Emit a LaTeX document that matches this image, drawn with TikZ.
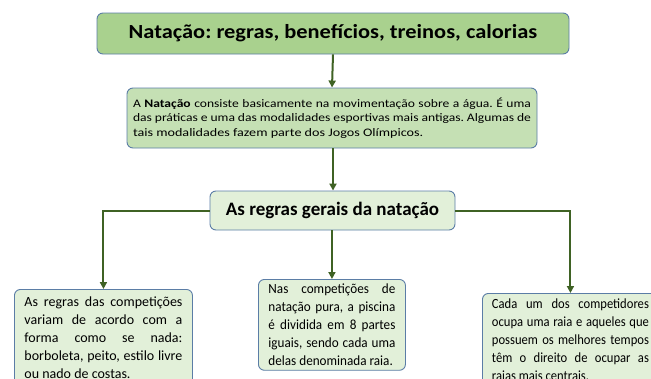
\documentclass[tikz,border=0pt]{standalone}
\usepackage{fontspec}
\setmainfont{Carlito}
\newfontfamily\titlefont[FakeStretch=1.12]{Carlito}
\newfontfamily\descfont[FakeStretch=1.18]{Carlito}
\newfontfamily\descfontb[FakeStretch=1.23]{Carlito}
\newfontfamily\midfont[FakeStretch=0.94]{Carlito}
\newfontfamily\rightfont[FakeStretch=0.9]{Carlito}
\usetikzlibrary{arrows.meta}
\definecolor{titlefill}{HTML}{A9D18E}
\definecolor{descfill}{HTML}{C5E0B4}
\definecolor{lightfill}{HTML}{E2F0D9}
\definecolor{boxline}{HTML}{5B7DA6}
\definecolor{arrgreen}{HTML}{3F6224}
\tikzset{
  box/.style={draw=boxline, line width=0.9pt, rounded corners=6pt},
  arr/.style={draw=arrgreen, line width=2pt, -{Triangle[length=7pt,width=7pt]}},
  leaf/.style={box, fill=lightfill, anchor=north west, align=justify, inner xsep=10pt},
}
\begin{document}
\frenchspacing
\begin{tikzpicture}[x=1pt,y=-1pt]
\useasboundingbox (0,0) rectangle (651,378);
\clip (0,0) rectangle (651,378);
\node[box, fill=titlefill, minimum width=472pt, minimum height=41pt, inner sep=0pt,
  font=\titlefont\bfseries\fontsize{20}{24}\selectfont] (title) at (333,33.5)
  {Natação: regras, benefícios, treinos, calorias};
\node[box, fill=descfill, minimum width=410pt, minimum height=60pt, inner xsep=6pt, inner ysep=0pt,
  text width=398pt, align=justify, font=\descfont\fontsize{11.5}{14.2}\selectfont\frenchspacing] (desc) at (332,118)
  {A \textbf{Natação} consiste basicamente na movimentação sobre a água. É uma\linebreak
   das práticas e uma das modalidades esportivas mais antigas. Algumas de\linebreak
   {\descfontb tais modalidades fazem parte dos Jogos Olímpicos.}};
\node[box, fill=lightfill, minimum width=245pt, minimum height=39pt, inner sep=0pt,
  font=\bfseries\fontsize{19}{23}\selectfont] (regras) at (332.5,210.5)
  {As regras gerais da natação};
\node[leaf, text width=158pt, inner ysep=7.5pt, font=\fontsize{14}{18}\selectfont] (left) at (14,289)
  {As regras das competições\linebreak
   variam de acordo com a\linebreak
   forma como se nada:\linebreak
   borboleta, peito, estilo livre\linebreak
   ou nado de costas.\rule[-12pt]{0pt}{0pt}};
\node[leaf, text width=127pt, inner ysep=4.5pt, font=\midfont\fontsize{14}{18}\selectfont] (mid) at (258,279)
  {Nas competições de\linebreak
   natação pura, a piscina\linebreak
   é dividida em 8 partes\linebreak
   iguais, sendo cada uma\linebreak
   delas denominada raia.};
\node[leaf, text width=157pt, inner xsep=9.5pt, inner ysep=5.5pt, font=\rightfont\fontsize{14}{18}\selectfont] (right) at (482,293)
  {Cada um dos competidores\linebreak
   ocupa uma raia e aqueles que\linebreak
   possuem os melhores tempos\linebreak
   têm o direito de ocupar as\linebreak
   raias mais centrais.\rule[-12pt]{0pt}{0pt}};
\draw[arr] (title.south) -- (desc.north);
\draw[arr] (desc.south -| title.south) -- (regras.north -| title.south);
\draw[arr] (regras.west) -| (left.north);
\draw[arr] (mid.north |- regras.south) -- (mid.north);
\draw[arr] (regras.east) -| (right.north);
\end{tikzpicture}
\end{document}
